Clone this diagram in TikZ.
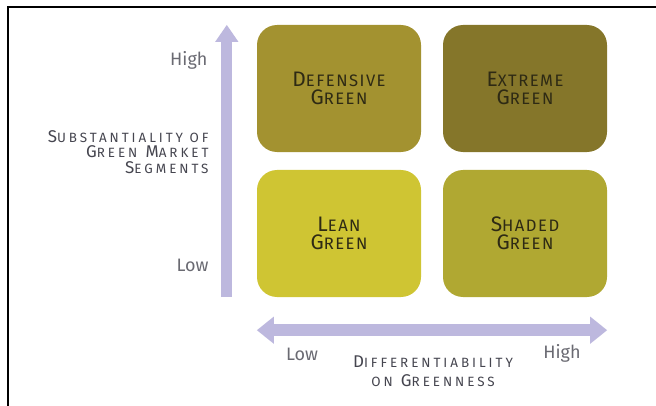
\documentclass[tikz,border=0pt]{standalone}
\usepackage{fontspec}
\setmainfont{Fira Sans}
\newfontfamily\axisfont[LetterSpace=22]{Fira Sans}
\newfontfamily\quadfont[LetterSpace=9]{Fira Sans}
\usetikzlibrary{matrix,arrows.meta}

\definecolor{defgreen}{HTML}{A39230}
\definecolor{extgreen}{HTML}{85762A}
\definecolor{leangreen}{HTML}{CFC533}
\definecolor{shadegreen}{HTML}{B0A832}
\definecolor{quadtext}{HTML}{2E2A14}
\definecolor{axiscol}{HTML}{BDB8DE}
\definecolor{ticktext}{HTML}{6A6A72}
\definecolor{titletext}{HTML}{45454F}

% fake small caps: full size initial, scaled rest
\newcommand{\sccaps}[2]{#1\scalebox{0.79}{#2}}

\begin{document}
\begin{tikzpicture}[x=1pt,y=-1pt,
  quad/.style={rounded corners=20pt,minimum width=164pt,minimum height=127pt,
    align=center,text=quadtext,font=\quadfont\fontsize{21}{18.5}\selectfont},
  tick/.style={text=ticktext,font=\fontsize{18}{18}\selectfont},
  title/.style={text=titletext,font=\axisfont\fontsize{17}{15.5}\selectfont}]
\useasboundingbox (0,0) rectangle (656,406);
\draw[line width=1.5pt] (8,410) -- (8,7) -- (660,7);

\matrix (m) [inner sep=0pt,row sep=18pt,column sep=22pt] at (432,161)
{
\node[quad,fill=defgreen] (defensive) {\sccaps{D}{EFENSIVE}\\\sccaps{G}{REEN}}; &
\node[quad,fill=extgreen] (extreme) {\sccaps{E}{XTREME}\\\sccaps{G}{REEN}}; \\
\node[quad,fill=leangreen] (lean) {\sccaps{L}{EAN}\\\sccaps{G}{REEN}}; &
\node[quad,fill=shadegreen] (shaded) {\sccaps{S}{HADED}\\\sccaps{G}{REEN}}; \\
};

\coordinate (vbot) at ([xshift=-30pt]m.south west);
\coordinate (vtop) at ([xshift=-30pt]m.north west);
\coordinate (hleft) at ([yshift=-33pt]m.south west);
\coordinate (hright) at ([yshift=-33pt]m.south east);

\draw[axiscol,line width=11pt,-{Triangle[width=22pt,length=17pt]}] (vbot) -- (vtop);
\draw[axiscol,line width=12pt,{Triangle[width=26pt,length=17pt]}-{Triangle[width=26pt,length=17pt]}] (hleft) -- (hright);

\node[tick,anchor=east] (yhigh) at (211,60) {High};
\node[tick,anchor=east] (ylow) at (212,265) {Low};
\node[tick] (xlow) at (302,354) {Low};
\node[tick] (xhigh) at (562,353) {High};

\node[title,anchor=east,align=right] (ytitle) at (212,152)
  {\sccaps{S}{UBSTANTIALITY OF}\\\sccaps{G}{REEN} \sccaps{M}{ARKET}\\\sccaps{S}{EGMENTS}};
\node[title,align=center,font=\axisfont\fontsize{17}{19}\selectfont] (xtitle) at (433,371)
  {\sccaps{D}{IFFERENTIABILITY}\\\scalebox{0.79}{ON} \sccaps{G}{REENNESS}};
\end{tikzpicture}
\end{document}
